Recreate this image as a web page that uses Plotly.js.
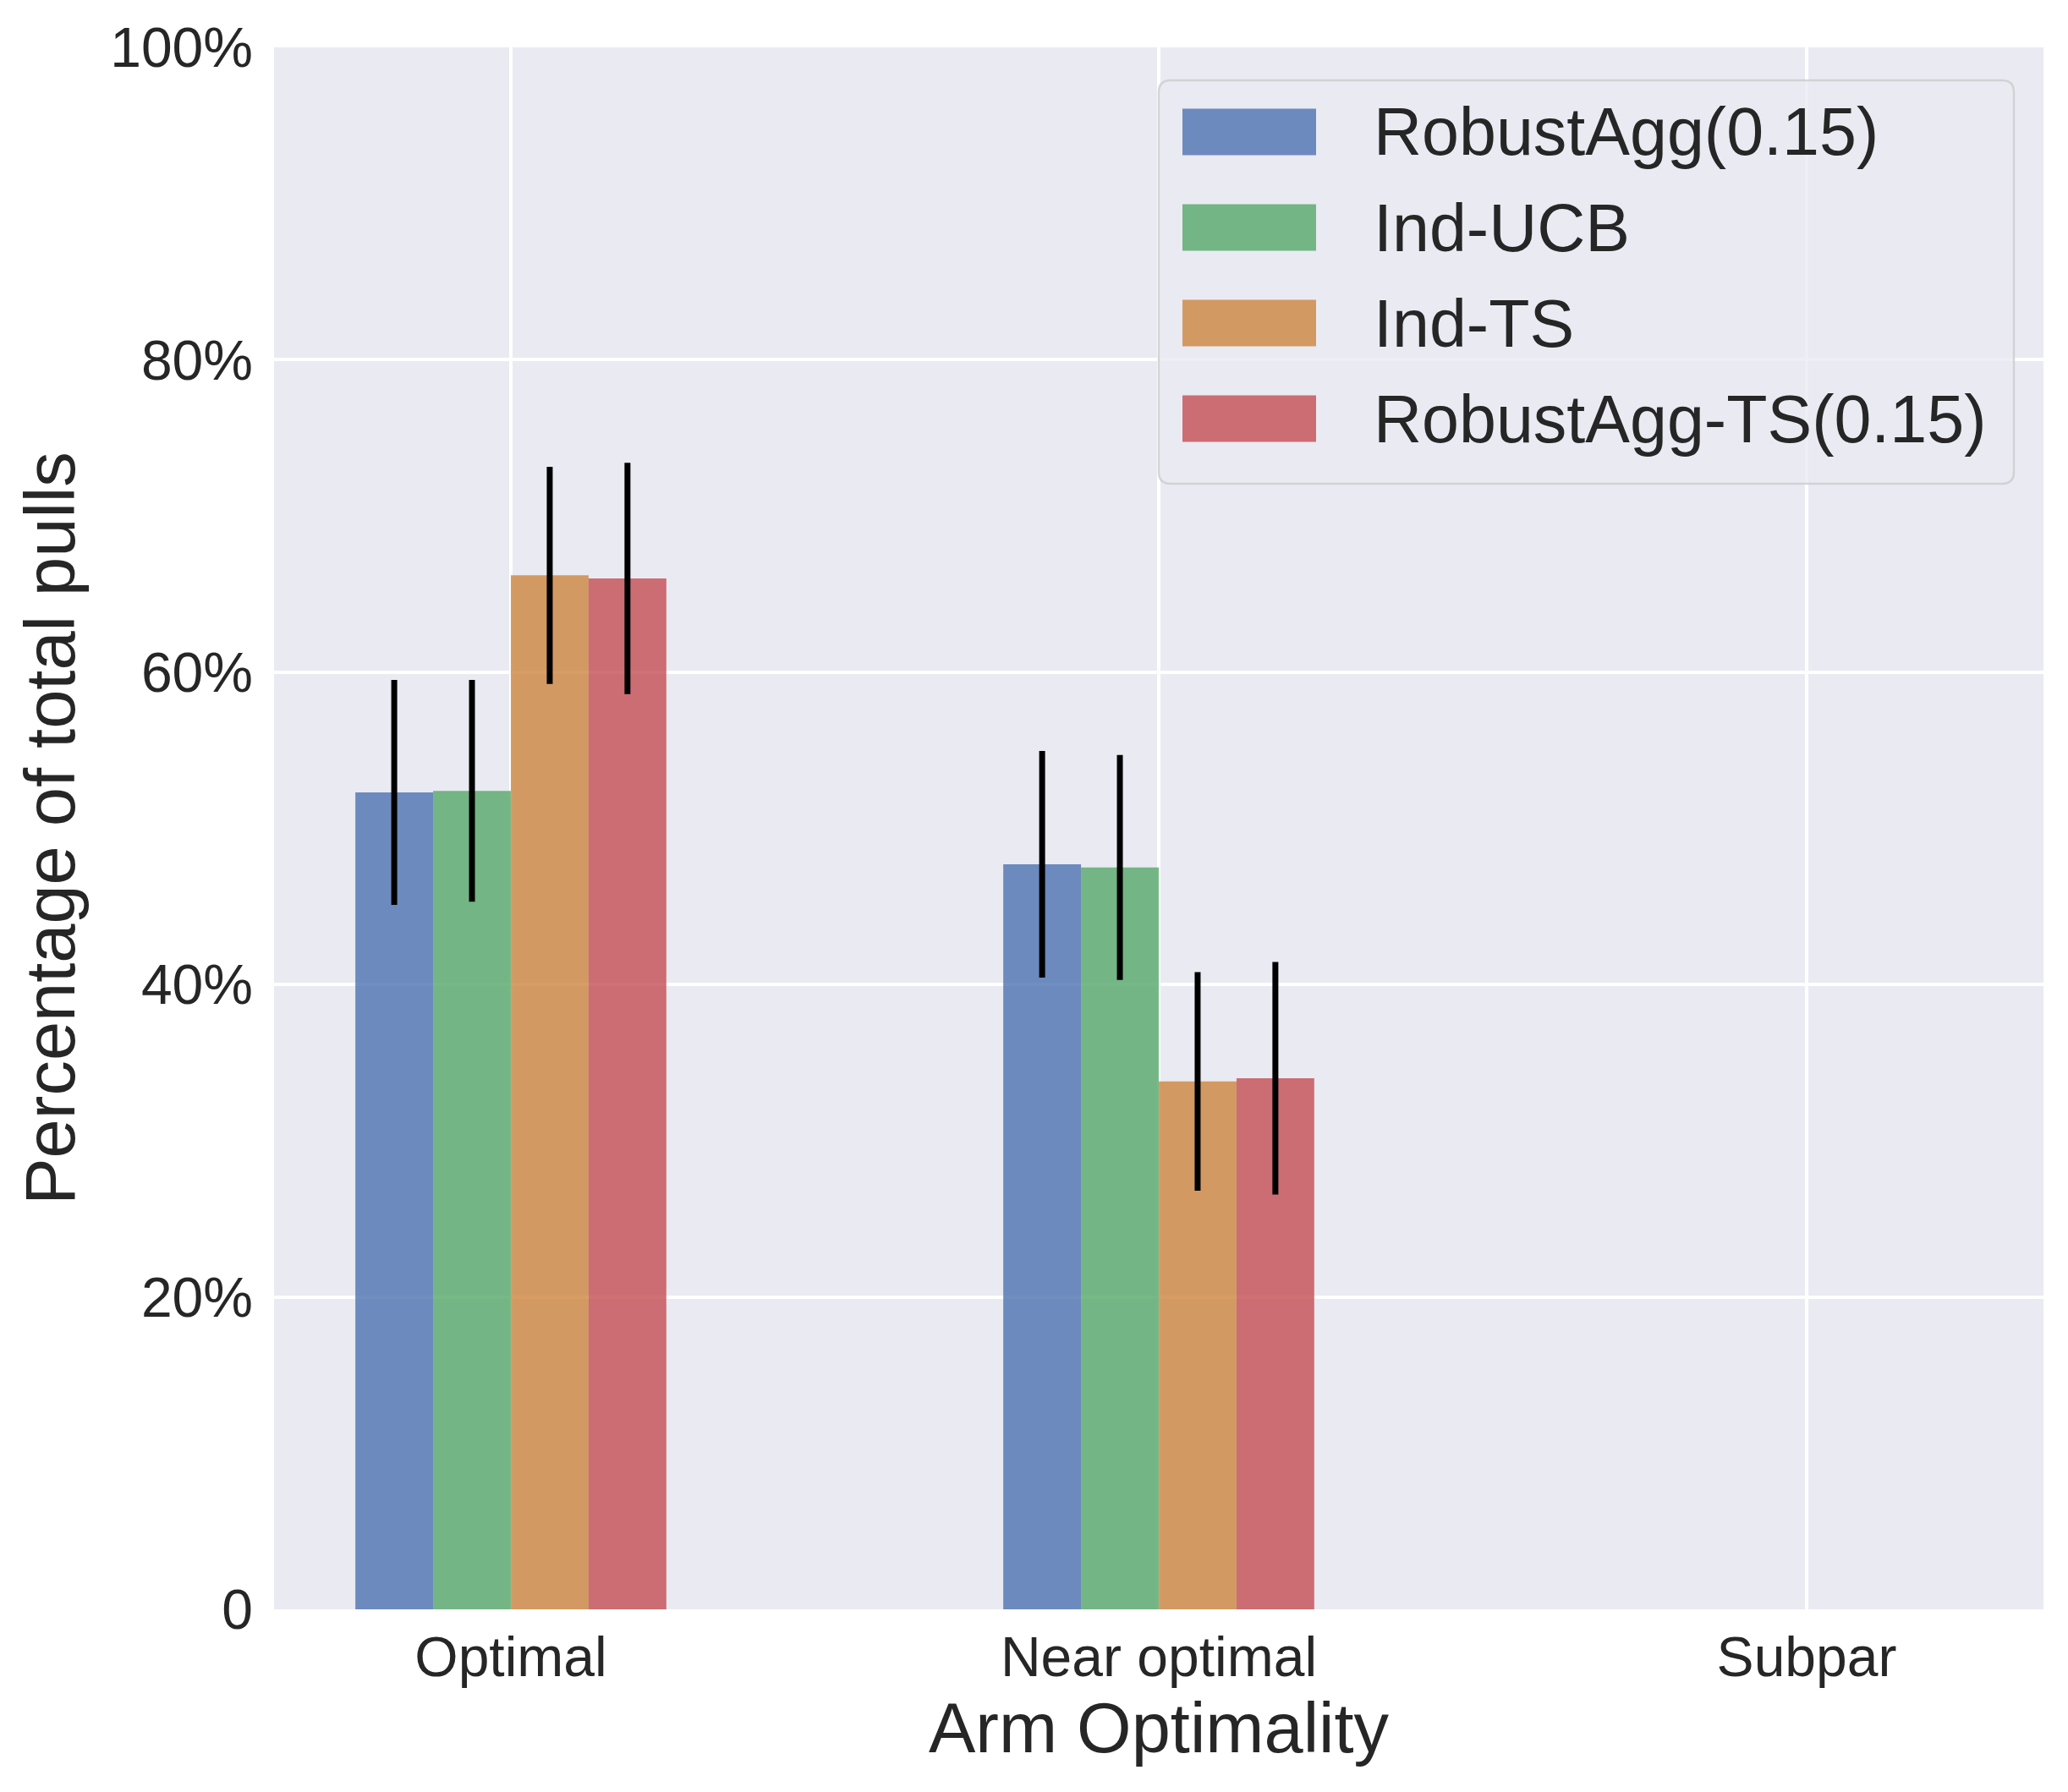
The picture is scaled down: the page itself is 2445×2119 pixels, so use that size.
<!DOCTYPE html>
<html>
<head>
<meta charset="utf-8">
<script src="https://cdn.plot.ly/plotly-3.0.1.min.js"></script>
<style>
  html, body { margin: 0; padding: 0; background: #ffffff; }
  #graph { width: 2445px; height: 2119px; }
</style>
</head>
<body>
<div id="graph"></div>
<script>
// categories and series (percent of total pulls)
var categories = ['Optimal', 'Near optimal', 'Subpar'];
var seriesNames = ['RobustAgg(0.15)', 'Ind-UCB', 'Ind-TS', 'RobustAgg-TS(0.15)'];
var seriesColors = ['rgba(76,114,176,0.8)', 'rgba(85,168,104,0.8)', 'rgba(205,133,63,0.8)', 'rgba(196,78,82,0.8)'];

var robustAggValues = [52.3, 47.7, 0];
var indUcbValues = [52.4, 47.5, 0];
var indTsValues = [66.2, 33.8, 0];
var robustAggTsValues = [66.0, 34.0, 0];

var robustAggErr = [7.2, 7.25, 0];
var indUcbErr = [7.1, 7.2, 0];
var indTsErr = [6.95, 7.0, 0];
var robustAggTsErr = [7.4, 7.45, 0];

var yTickVals = [0, 20, 40, 60, 80, 100];
var yTickText = ['0', '20%', '40%', '60%', '80%', '100%'];

var allValues = [robustAggValues, indUcbValues, indTsValues, robustAggTsValues];
var allErrs = [robustAggErr, indUcbErr, indTsErr, robustAggTsErr];

var textColor = '#262626';
var fontFamily = 'Liberation Sans, Arial, sans-serif';

var W = 2445, H = 2119;
var plotL = 324, plotR = 2416, plotT = 56, plotB = 1903;

function px(x) { return (x - plotL) / (plotR - plotL); }
function py(y) { return (plotB - y) / (plotB - plotT); }

var traces = [];
for (var i = 0; i < seriesNames.length; i++) {
    traces.push({
        x: categories,
        y: allValues[i],
        name: seriesNames[i],
        type: 'bar',
        marker: { color: seriesColors[i], line: { width: 0 } },
        error_y: {
            type: 'data',
            array: allErrs[i],
            visible: true,
            color: '#000000',
            thickness: 7,
            width: 0
        },
        showlegend: false,
        hoverinfo: 'skip'
    });
}

// legend drawn by hand so the swatches get matplotlib's proportions
var shapes = [];
var annotations = [];
var boxL = px(1370), boxR = px(2381), boxT = py(95), boxB = py(572);
var rx = 14 / (plotR - plotL), ry = 14 / (plotB - plotT);
shapes.push({
    type: 'path',
    xref: 'paper', yref: 'paper',
    path: 'M' + (boxL + rx) + ',' + boxT +
          ' L' + (boxR - rx) + ',' + boxT +
          ' Q' + boxR + ',' + boxT + ' ' + boxR + ',' + (boxT - ry) +
          ' L' + boxR + ',' + (boxB + ry) +
          ' Q' + boxR + ',' + boxB + ' ' + (boxR - rx) + ',' + boxB +
          ' L' + (boxL + rx) + ',' + boxB +
          ' Q' + boxL + ',' + boxB + ' ' + boxL + ',' + (boxB + ry) +
          ' L' + boxL + ',' + (boxT - ry) +
          ' Q' + boxL + ',' + boxT + ' ' + (boxL + rx) + ',' + boxT + ' Z',
    fillcolor: 'rgba(234,234,242,0.8)',
    line: { color: 'rgba(204,204,204,0.8)', width: 2.5 },
    layer: 'above'
});
var rowY = [156, 269, 382, 495];
for (var j = 0; j < seriesNames.length; j++) {
    shapes.push({
        type: 'rect',
        xref: 'paper', yref: 'paper',
        x0: px(1398), x1: px(1556),
        y0: py(rowY[j] + 27.5), y1: py(rowY[j] - 27.5),
        fillcolor: seriesColors[j],
        line: { width: 0 },
        layer: 'above'
    });
    annotations.push({
        xref: 'paper', yref: 'paper',
        x: px(1622), y: py(rowY[j]),
        xanchor: 'left', yanchor: 'middle',
        text: seriesNames[j],
        showarrow: false,
        font: { family: fontFamily, size: 79, color: textColor }
    });
}

var layout = {
    width: W,
    height: H,
    margin: { l: plotL, r: W - plotR, t: plotT, b: H - plotB, pad: 0 },
    paper_bgcolor: '#ffffff',
    plot_bgcolor: '#EAEAF2',
    font: { family: fontFamily, color: textColor },
    barmode: 'group',
    bargap: 0.52,
    bargroupgap: 0,
    showlegend: false,
    xaxis: {
        type: 'category',
        range: [-0.3655, 2.3655],
        showgrid: true,
        gridcolor: '#ffffff',
        gridwidth: 4,
        zeroline: false,
        showline: false,
        ticks: '',
        ticklabelstandoff: 12,
        tickfont: { family: fontFamily, size: 66, color: textColor },
        title: {
            text: 'Arm Optimality',
            font: { family: fontFamily, size: 83, color: textColor },
            standoff: 18
        },
        automargin: false
    },
    yaxis: {
        range: [0, 100],
        tickvals: yTickVals,
        ticktext: yTickText,
        showgrid: true,
        gridcolor: '#ffffff',
        gridwidth: 4,
        zeroline: false,
        showline: false,
        ticks: '',
        ticklabelstandoff: 24,
        tickfont: { family: fontFamily, size: 66, color: textColor },
        title: {
            text: 'Percentage of total pulls',
            font: { family: fontFamily, size: 83, color: textColor },
            standoff: 14
        },
        automargin: false
    },
    shapes: shapes,
    annotations: annotations
};

var config = { staticPlot: true, displayModeBar: false };
Plotly.newPlot('graph', traces, layout, config);
</script>
</body>
</html>
